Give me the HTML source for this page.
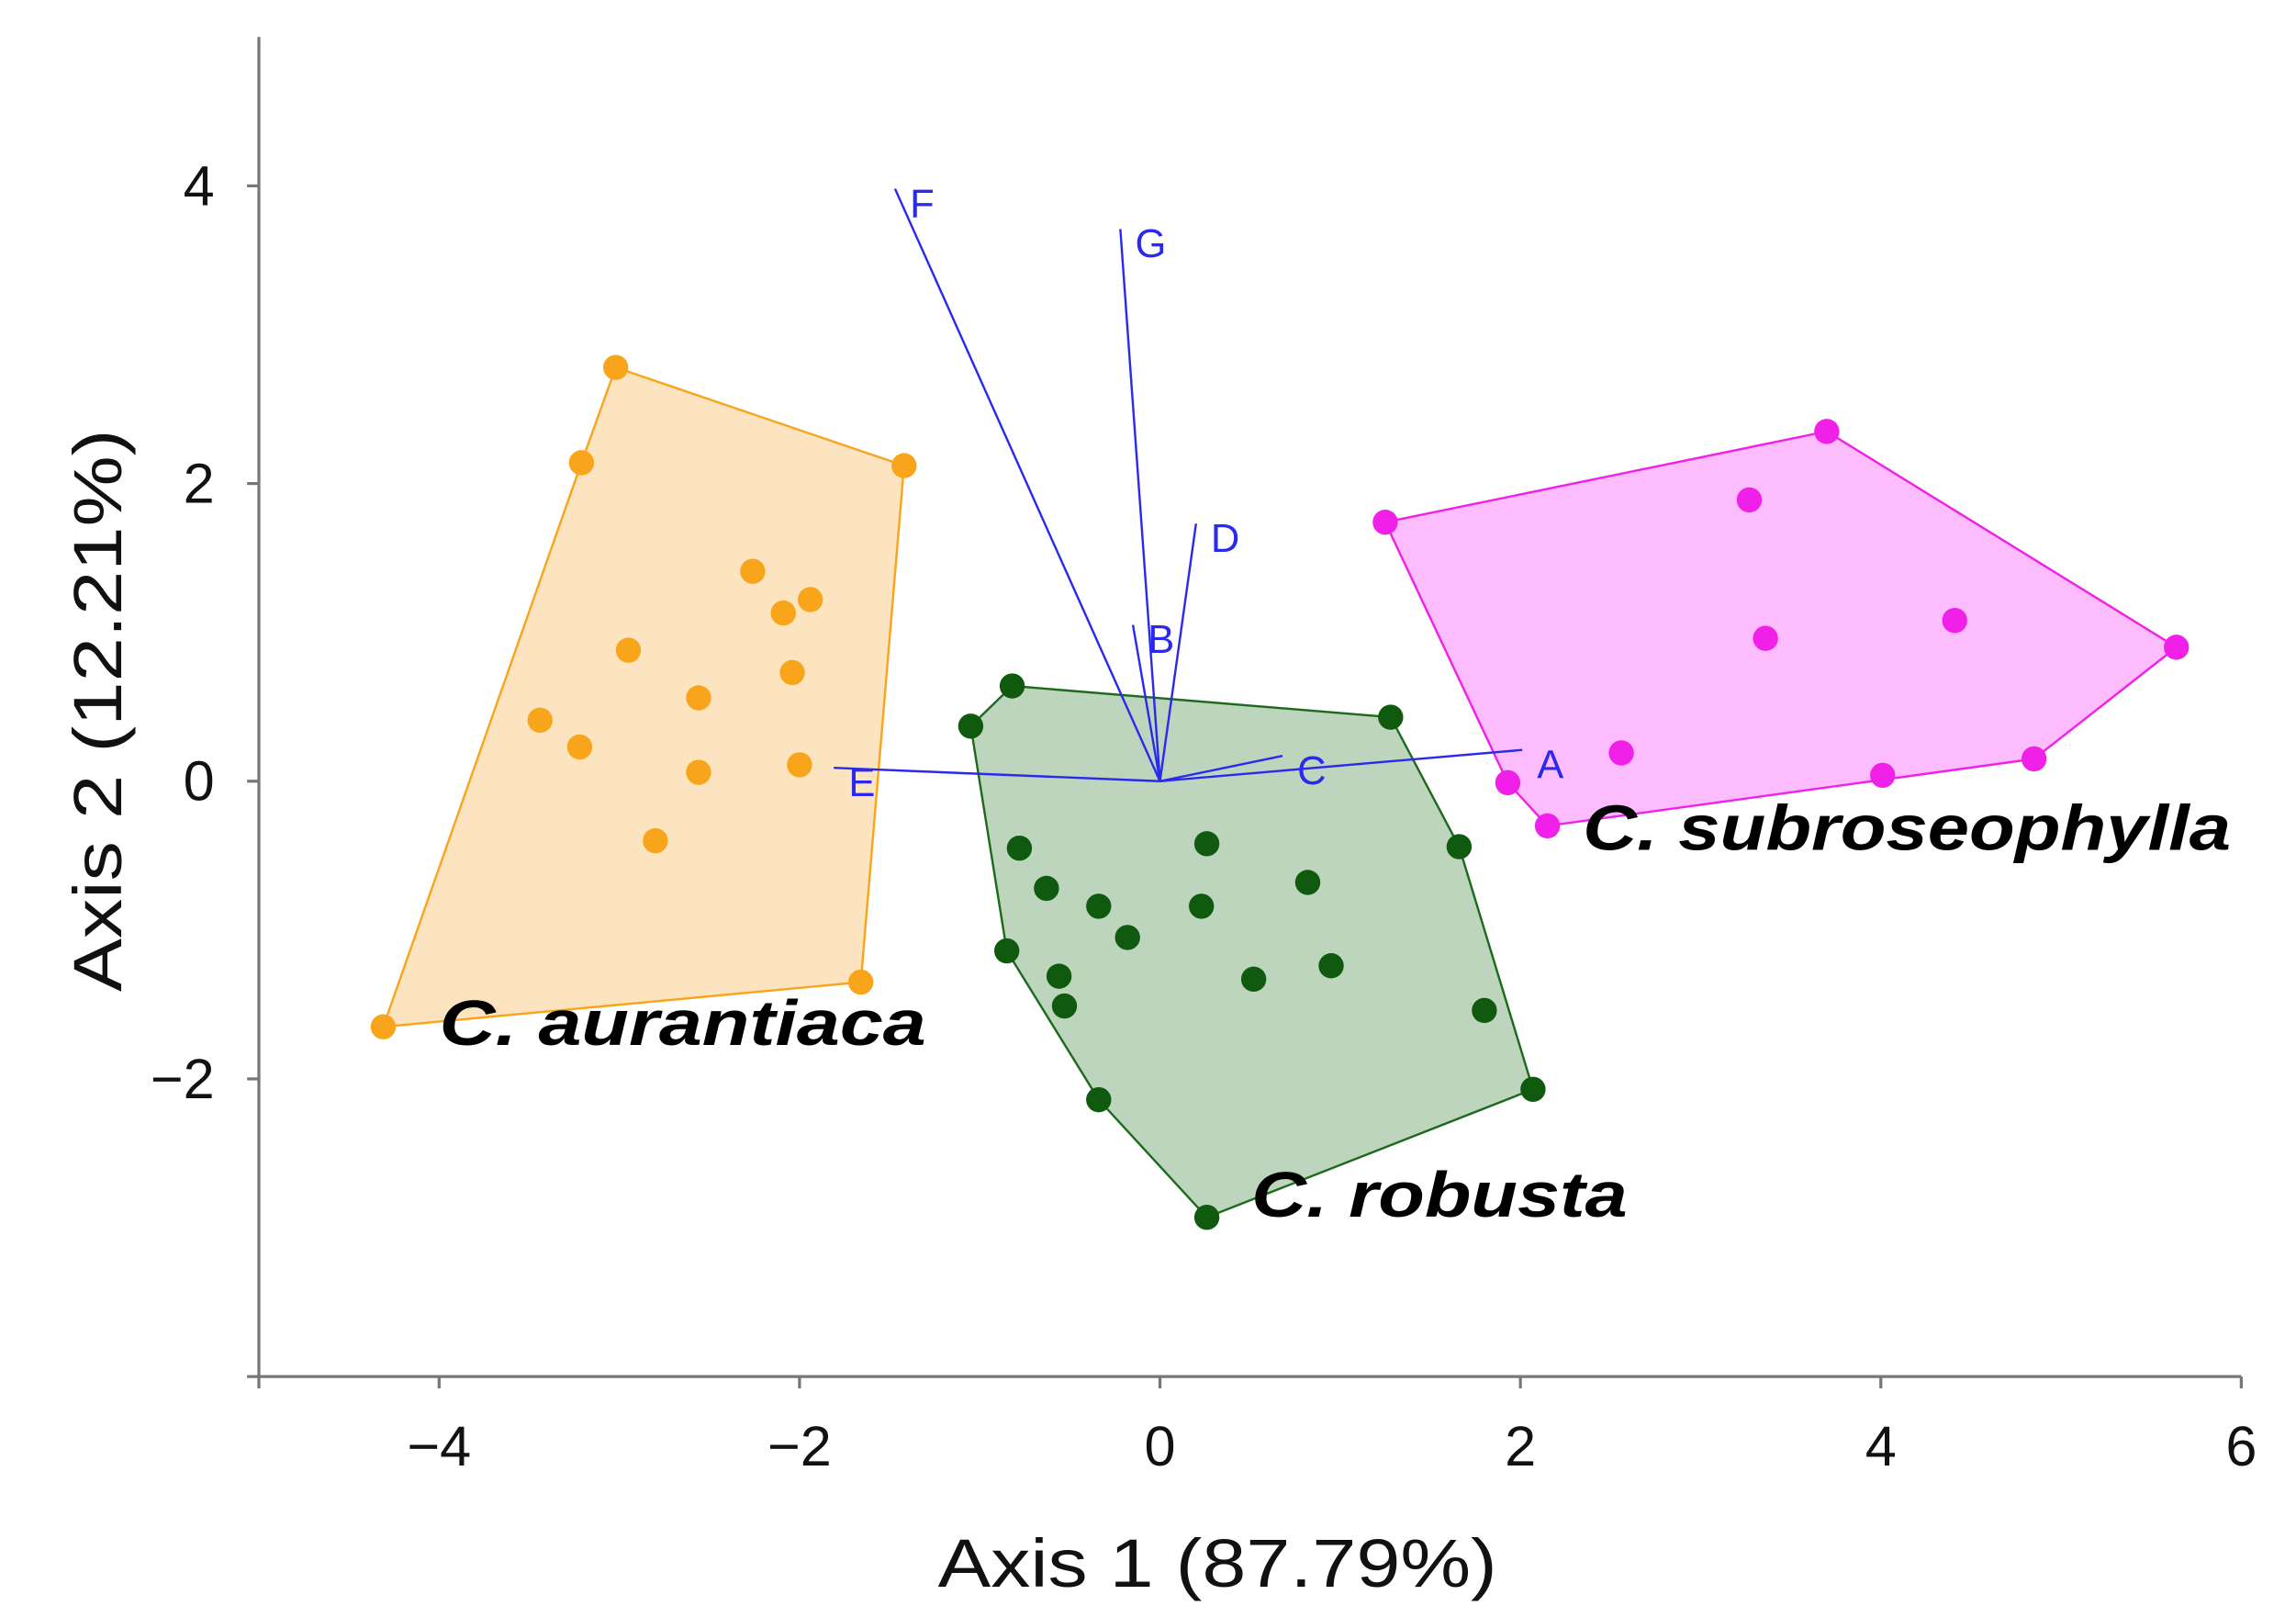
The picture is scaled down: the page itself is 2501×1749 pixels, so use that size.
<!DOCTYPE html>
<html><head><meta charset="utf-8"><style>
html,body{margin:0;padding:0;background:#fff}
svg{display:block}
text{font-family:"Liberation Sans",sans-serif}
</style></head><body>
<svg id="chart" width="2501" height="1749" viewBox="0 0 1552 1085" preserveAspectRatio="none" xmlns="http://www.w3.org/2000/svg">
<g id="plot"></g>
</svg>
<script>
const xTicks=[-4,-2,0,2,4,6];
const yTicks=[-2,0,2,4];
const auraX=[-3.02,-3.21,-1.42,-2.26,-1.94,-2.09,-2.95,-2.04,-2.56,-3.44,-3.22,-2.56,-2.00,-2.80,-1.66,-4.31];
const auraY=[2.78,2.14,2.12,1.41,1.22,1.13,0.88,0.73,0.56,0.41,0.23,0.06,0.11,-0.40,-1.35,-1.65];
const auraHull=[15,1,0,2,14];
const robX=[-0.82,-1.05,1.28,-0.78,0.26,1.66,-0.63,-0.34,0.23,0.82,-0.18,-0.85,-0.56,0.52,0.95,-0.53,1.80,2.07,-0.34,0.26];
const robY=[0.64,0.37,0.43,-0.45,-0.42,-0.44,-0.72,-0.84,-0.84,-0.68,-1.05,-1.14,-1.31,-1.33,-1.24,-1.51,-1.54,-2.07,-2.14,-2.93];
const robHull=[1,0,2,5,17,19,18,11];
const subX=[3.70,1.25,3.27,4.41,3.36,5.64,2.56,1.93,4.01,4.85,2.15];
const subY=[2.35,1.74,1.89,1.08,0.96,0.90,0.19,-0.01,0.04,0.15,-0.30];
const subHull=[1,0,5,9,10,7];
const vecNames=["F","G","D","B","C","A","E"];
const vecX=[-1.47,-0.22,0.20,-0.15,0.68,2.01,-1.81];
const vecY=[3.98,3.71,1.73,1.05,0.17,0.21,0.09];

const X0=175,X1=1515,Y0=930,Y1=25,xmin=-5,xmax=6,ymin=-4,ymax=5;
const sx=v=>X0+(v-xmin)/(xmax-xmin)*(X1-X0);
const sy=v=>Y0-(v-ymin)/(ymax-ymin)*(Y0-Y1);
const NS="http://www.w3.org/2000/svg";
const g=document.getElementById('plot');
function mk(tag,attrs,parent){const e=document.createElementNS(NS,tag);for(const k in attrs)e.setAttribute(k,attrs[k]);(parent||g).appendChild(e);return e;}

function group(xs,ys,hull,fill,stroke,dot,name){
  const p=mk('polygon',{points:hull.map(i=>sx(xs[i])+','+sy(ys[i])).join(' '),fill:fill,stroke:stroke,'stroke-width':1.5});
  
  
  xs.forEach((x,i)=>{const c=mk('circle',{cx:sx(x),cy:sy(ys[i]),r:8.5,fill:dot});
    
    });
}
group(auraX,auraY,auraHull,'#fde4c0','#f8a51c','#f8a51c','aurantiaca');
group(robX,robY,robHull,'#bcd5bc','#1d6a1d','#0f5a0f','robusta');
group(subX,subY,subHull,'#fdbcfd','#f020e8','#f020e8','subroseophylla');

vecNames.forEach((n,i)=>{
  const l=mk('line',{x1:sx(0),y1:sy(0),x2:sx(vecX[i]),y2:sy(vecY[i]),stroke:'#2a2aee','stroke-width':1.5});
  
  
  const t=mk('text',{x:sx(vecX[i])+10,y:sy(vecY[i])+19,fill:'#2a2aee','font-size':27});
  t.textContent=n;
  
  
});

// axes
const ax=mk('line',{x1:X0,y1:Y0,x2:X1,y2:Y0,stroke:'#777','stroke-width':2});


const ay=mk('line',{x1:X0,y1:Y0,x2:X0,y2:Y1,stroke:'#777','stroke-width':2});


mk('line',{x1:X0-8,y1:Y0,x2:X0,y2:Y0,stroke:'#777','stroke-width':2});
mk('line',{x1:X0,y1:Y0,x2:X0,y2:Y0+8,stroke:'#777','stroke-width':2});
xTicks.forEach(v=>{
  mk('line',{x1:sx(v),y1:Y0,x2:sx(v),y2:Y0+8,stroke:'#777','stroke-width':2});
  const t=mk('text',{x:sx(v),y:Y0+60,'text-anchor':'middle','font-size':38,fill:'#111'});
  t.textContent=v<0?'\u2212'+(-v):String(v);
  
  
});
yTicks.forEach(v=>{
  mk('line',{x1:X0-8,y1:sy(v),x2:X0,y2:sy(v),stroke:'#777','stroke-width':2});
  const t=mk('text',{x:X0-30,y:sy(v)+13,'text-anchor':'end','font-size':38,fill:'#111'});
  t.textContent=v<0?'\u2212'+(-v):String(v);
  
  
});
const xt=mk('text',{x:634,y:1072,'font-size':46,fill:'#111',textLength:378,lengthAdjust:'spacingAndGlyphs'});
xt.textContent='Axis 1 (87.79%)';


const yt=mk('text',{x:-190,y:0,'font-size':46,fill:'#111',textLength:380,lengthAdjust:'spacingAndGlyphs',transform:'translate(82,480) rotate(-90)'});
yt.textContent='Axis 2 (12.21%)';



[['C. aurantiaca',297,706,329,'label-aurantiaca'],['C. robusta',846,822,254,'label-robusta'],['C. subroseophylla',1070,574,438,'label-subroseophylla']].forEach(a=>{
  const t=mk('text',{x:a[1],y:a[2],'font-size':43,'font-weight':'bold','font-style':'italic',fill:'#000',textLength:a[3],lengthAdjust:'spacingAndGlyphs'});
  t.textContent=a[0];
  
  
});
</script>
</body></html>
